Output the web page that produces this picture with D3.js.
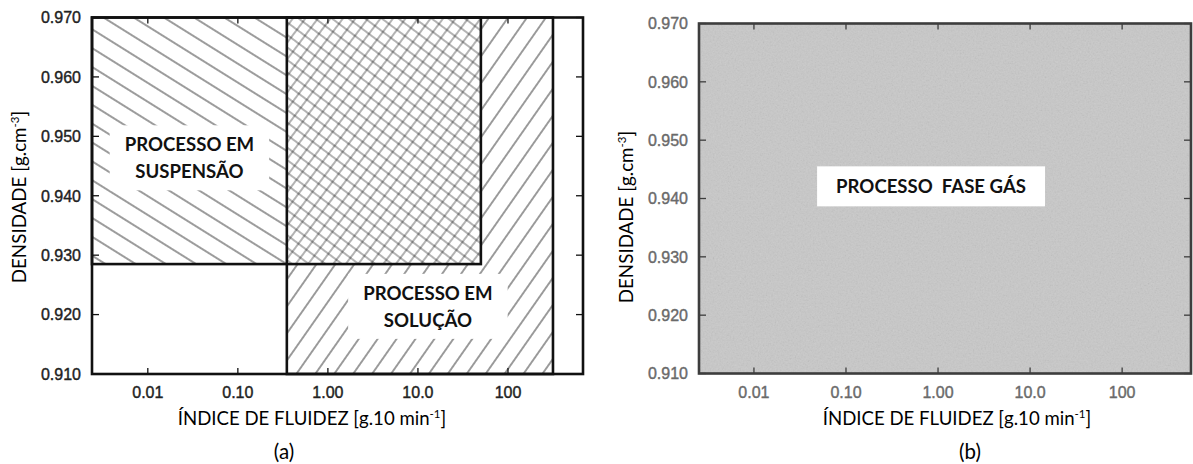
<!DOCTYPE html>
<html>
<head>
<meta charset="utf-8">
<script src="https://cdn.jsdelivr.net/npm/d3@7"></script>
<style>
body { margin: 0; background: #fff; }
svg { display: block; }
</style>
</head>
<body>
<svg width="1193" height="464"></svg>
<script>
// axis values (same on both panels)
var densTicks = [0.910, 0.920, 0.930, 0.940, 0.950, 0.960, 0.970];
var miTicks = [0.01, 0.1, 1, 10, 100];
var miTickLabels = ["0.01", "0.10", "1.00", "10.0", "100"];

// panel (a): process windows, melt index and density limits
var procNames = ["PROCESSO EM|SUSPENSÃO", "PROCESSO EM|SOLUÇÃO"];
var procMiFrom = [0.0024, 0.35];
var procMiTo = [50, 316];
var procDensFrom = [0.9285, 0.910];
var procDensTo = [0.970, 0.970];
var procLabelMi = [0.029, 12.9];
var procLabelDens = [0.9463, 0.9213];

// panel (b): gas phase covers the whole chart
var gasName = "PROCESSO  FASE GÁS";
var gasLabelMi = 0.84;
var gasLabelDens = 0.942;

var yTitle = "DENSIDADE [g.cm";
var xTitle = "ÍNDICE DE FLUIDEZ [g.10 min";

var svg = d3.select("svg");
var defs = svg.append("defs");

function hatch(id, angle, gap, color, width) {
  var p = defs.append("pattern")
    .attr("id", id)
    .attr("patternUnits", "userSpaceOnUse")
    .attr("width", gap).attr("height", gap)
    .attr("patternTransform", "rotate(" + angle + ")");
  p.append("line")
    .attr("x1", -1).attr("x2", gap + 1)
    .attr("y1", gap / 2).attr("y2", gap / 2)
    .attr("stroke", color)
    .attr("stroke-width", width);
}
hatch("hDown", 32, 16, "#5a5a5a", 1.2);
hatch("hUp", -55, 15.5, "#5a5a5a", 1.2);
hatch("xA", 37, 10, "rgba(0,0,0,0.5)", 1.2);
hatch("xB", -53, 10, "rgba(0,0,0,0.5)", 1.2);

var noise = defs.append("filter").attr("id", "noise")
  .attr("x", 0).attr("y", 0).attr("width", 1).attr("height", 1);
noise.append("feTurbulence").attr("type", "fractalNoise")
  .attr("baseFrequency", 0.6).attr("numOctaves", 3).attr("seed", 4);
noise.append("feColorMatrix").attr("type", "saturate").attr("values", 0);
noise.append("feComposite").attr("in2", "SourceGraphic").attr("operator", "in");

function axes(g, x, y, o) {
  var x0 = x.range()[0], x1 = x.range()[1];
  var y0 = y.range()[0], y1 = y.range()[1];
  var tk = g.append("g").attr("stroke", o.frame).attr("stroke-width", 1.3);
  miTicks.forEach(function(v) {
    tk.append("line").attr("x1", x(v)).attr("x2", x(v)).attr("y1", y0).attr("y2", y0 - 6);
    tk.append("line").attr("x1", x(v)).attr("x2", x(v)).attr("y1", y1).attr("y2", y1 + 6);
  });
  densTicks.forEach(function(v) {
    tk.append("line").attr("y1", y(v)).attr("y2", y(v)).attr("x1", x0).attr("x2", x0 + 7);
    tk.append("line").attr("y1", y(v)).attr("y2", y(v)).attr("x1", x1).attr("x2", x1 - 7);
  });

  g.append("rect")
    .attr("x", x0).attr("y", y1)
    .attr("width", x1 - x0).attr("height", y0 - y1)
    .attr("fill", "none")
    .attr("stroke", o.frame)
    .attr("stroke-width", 2.6);

  g.append("g").selectAll("text")
    .data(densTicks)
    .enter().append("text")
    .attr("x", x0 - 11)
    .attr("y", function(d) { return y(d); })
    .attr("dy", "0.36em")
    .attr("text-anchor", "end")
    .attr("font-family", "Liberation Sans, Arial, sans-serif")
    .attr("font-size", 16)
    .attr("fill", o.tick)
    .attr("stroke", o.tick).attr("stroke-width", 0.4)
    .text(function(d) { return d3.format(".3f")(d); });

  g.append("g").selectAll("text")
    .data(miTicks)
    .enter().append("text")
    .attr("x", function(d) { return x(d); })
    .attr("y", y0 + 24)
    .attr("text-anchor", "middle")
    .attr("font-family", "Liberation Sans, Arial, sans-serif")
    .attr("font-size", 16)
    .attr("fill", o.tick)
    .attr("stroke", o.tick).attr("stroke-width", 0.4)
    .text(function(d, i) { return miTickLabels[i]; });

  var yt = g.append("text")
    .attr("transform", "translate(" + o.yTitleX + "," + o.yTitleY + ") rotate(-90)")
    .attr("text-anchor", "middle")
    .attr("font-family", "Lato, sans-serif")
    .attr("font-size", 18.8)
    .attr("fill", "#000");
  yt.append("tspan").text(yTitle);
  yt.append("tspan").attr("dy", -7).attr("font-size", 11.5).text("-3");
  yt.append("tspan").attr("dy", 7).text("]");

  var xt = g.append("text")
    .attr("x", o.xTitleX).attr("y", 425)
    .attr("text-anchor", "middle")
    .attr("font-family", "Lato, sans-serif")
    .attr("font-size", 18.6)
    .attr("fill", "#000");
  xt.append("tspan").text(xTitle);
  xt.append("tspan").attr("dy", -7).attr("font-size", 11.5).text("-1");
  xt.append("tspan").attr("dy", 7).text("]");

  g.append("text")
    .attr("x", o.capX).attr("y", 459)
    .attr("text-anchor", "middle")
    .attr("font-family", "Lato, sans-serif")
    .attr("font-size", 20.5)
    .attr("fill", "#000")
    .text(o.cap);
}

function label(g, lines, cx, cy, padX, padY) {
  var box = g.append("rect").attr("fill", "#fff");
  var t = g.append("text")
    .attr("text-anchor", "middle")
    .attr("font-family", "Lato, sans-serif")
    .attr("font-weight", "bold")
    .attr("font-size", 18.6)
    .attr("fill", "#111");
  var lh = 27;
  lines.forEach(function(s, i) {
    t.append("tspan")
      .attr("x", cx)
      .attr("y", cy + (i - (lines.length - 1) / 2) * lh)
      .attr("dy", "0.35em")
      .style("white-space", "pre")
      .text(s);
  });
  var bb = t.node().getBBox();
  box.attr("x", bb.x - padX).attr("y", bb.y - padY)
    .attr("width", bb.width + 2 * padX).attr("height", bb.height + 2 * padY);
}

// ---------- panel (a)
var xa = d3.scaleLog().domain([0.0024, 681]).range([92, 583]);
var ya = d3.scaleLinear().domain([0.910, 0.970]).range([374, 17.5]);
var ga = svg.append("g");

var procs = procNames.map(function(n, i) {
  return { name: n, x0: procMiFrom[i], x1: procMiTo[i], y0: procDensFrom[i], y1: procDensTo[i],
    lx: procLabelMi[i], ly: procLabelDens[i] };
});
var fills = ["url(#hDown)", "url(#hUp)"];

ga.selectAll("rect.proc")
  .data(procs)
  .enter().append("rect")
  .attr("class", "proc")
  .attr("x", function(d) { return xa(d.x0); })
  .attr("y", function(d) { return ya(d.y1); })
  .attr("width", function(d) { return xa(d.x1) - xa(d.x0); })
  .attr("height", function(d) { return ya(d.y0) - ya(d.y1); })
  .attr("fill", function(d, i) { return fills[i]; });

// overlap of both windows gets the cross hatch
var ov = {
  x0: d3.max(procs, function(d) { return d.x0; }),
  x1: d3.min(procs, function(d) { return d.x1; }),
  y0: d3.max(procs, function(d) { return d.y0; }),
  y1: d3.min(procs, function(d) { return d.y1; })
};
["#fff", "url(#xA)", "url(#xB)"].forEach(function(f) {
  ga.append("rect")
    .attr("x", xa(ov.x0)).attr("y", ya(ov.y1))
    .attr("width", xa(ov.x1) - xa(ov.x0)).attr("height", ya(ov.y0) - ya(ov.y1))
    .attr("fill", f);
});

ga.selectAll("rect.edge")
  .data(procs)
  .enter().append("rect")
  .attr("class", "edge")
  .attr("x", function(d) { return xa(d.x0); })
  .attr("y", function(d) { return ya(d.y1); })
  .attr("width", function(d) { return xa(d.x1) - xa(d.x0); })
  .attr("height", function(d) { return ya(d.y0) - ya(d.y1); })
  .attr("fill", "none")
  .attr("stroke", "#111")
  .attr("stroke-width", 2.6);

axes(ga, xa, ya, { frame: "#111", tick: "#222", yTitleX: 26, yTitleY: 197, xTitleX: 312, capX: 284, cap: "(a)" });

procs.forEach(function(d) {
  label(ga, d.name.split("|"), xa(d.lx), ya(d.ly), 15, 8);
});

// ---------- panel (b)
var xb = d3.scaleLog().domain([0.00253, 560]).range([699, 1191]);
var yb = d3.scaleLinear().domain([0.910, 0.970]).range([373.5, 23.5]);
var gb = svg.append("g");

gb.append("rect")
  .attr("x", xb.range()[0]).attr("y", yb.range()[1])
  .attr("width", xb.range()[1] - xb.range()[0])
  .attr("height", yb.range()[0] - yb.range()[1])
  .attr("fill", "#c8c8c8");
gb.append("rect")
  .attr("x", xb.range()[0]).attr("y", yb.range()[1])
  .attr("width", xb.range()[1] - xb.range()[0])
  .attr("height", yb.range()[0] - yb.range()[1])
  .attr("fill", "#fff")
  .attr("filter", "url(#noise)")
  .attr("opacity", 0.22);

axes(gb, xb, yb, { frame: "#3d3d3d", tick: "#6a6a6a", yTitleX: 633, yTitleY: 217, xTitleX: 957, capX: 970, cap: "(b)" });

label(gb, [gasName], xb(gasLabelMi), yb(gasLabelDens), 19, 9);
</script>
</body>
</html>
